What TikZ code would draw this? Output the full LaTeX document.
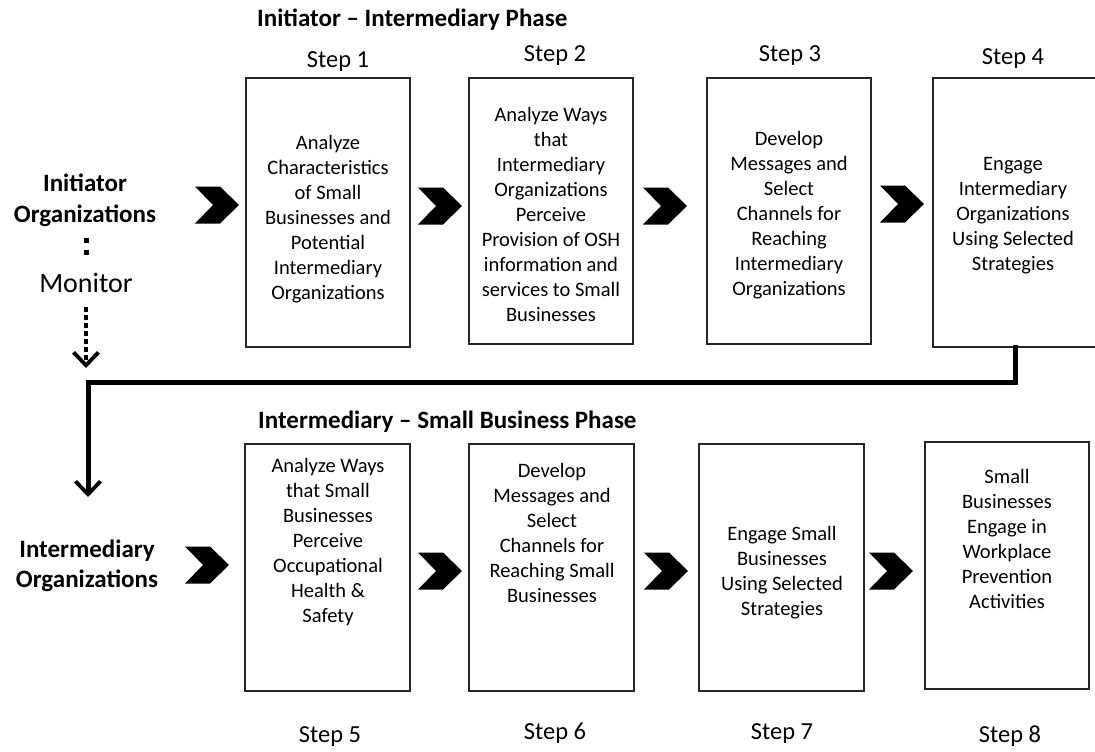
\documentclass[tikz,border=0pt]{standalone}
\usepackage{fontspec}
\setmainfont{Carlito}
\usetikzlibrary{arrows.meta}
\begin{document}
\begin{tikzpicture}[x=1pt,y=-1pt,
  stepbox/.style={draw=black!85, line width=1.6pt, minimum width=164pt, inner sep=0pt},
  boxtext/.style={align=center, inner sep=0pt, font=\fontsize{20.5}{25}\selectfont},
  steplabel/.style={anchor=base, inner sep=0pt, font=\fontsize{24.5}{29}\selectfont},
  phasetitle/.style={anchor=base west, inner sep=0pt, font=\fontsize{25}{30}\selectfont\bfseries},
  sidelabel/.style={align=center, inner sep=0pt, font=\fontsize{25}{31}\selectfont\bfseries},
  openhead/.style={-{Straight Barb[length=13pt,width=25pt,line width=3.8pt]}},
  flowline/.style={line width=5pt, line join=miter, line cap=rect, openhead},
  monitorline/.style={line width=4.5pt, dash pattern=on 4.5pt off 3.5pt, openhead},
  chevron/.pic={\fill[black] (-22,-18.5) -- (3,-18.5) -- (22,0) -- (3,18.5)
    -- (-22,18.5) -- (-4,0) -- cycle;}
]
\useasboundingbox (0,0) rectangle (1095,752);

% phase titles
\node[phasetitle] (title1) at (257,27) {Initiator -- Intermediary Phase};
\node[phasetitle] (title2) at (258,428) {Intermediary -- Small Business Phase};

% side labels
\node[sidelabel] (initiator) at (85,200) {Initiator\\Organizations};
\node[anchor=base, inner sep=0pt, font=\fontsize{28}{32}\selectfont] (monitor) at (86,292) {Monitor};
\node[sidelabel, font=\fontsize{25}{30}\selectfont\bfseries] (intermediary) at (87,566) {Intermediary\\Organizations};

% first phase: steps 1-4
\node[stepbox, minimum height=269pt] (b1) at (328,212.5) {};
\node[stepbox, minimum height=266pt] (b2) at (551,211) {};
\node[stepbox, minimum height=266pt] (b3) at (789,211) {};
\node[stepbox, minimum height=269pt] (b4) at (1015,212.5) {};

\node[boxtext] (t1) at (328,219) {Analyze\\Characteristics\\of Small\\Businesses and\\Potential\\Intermediary\\Organizations};
\node[boxtext] (t2) at (551,214) {Analyze Ways\\that\\Intermediary\\Organizations\\Perceive\\Provision of OSH\\information and\\services to Small\\Businesses};
\node[boxtext] (t3) at (789,215.5) {Develop\\Messages and\\Select\\Channels for\\Reaching\\Intermediary\\Organizations};
\node[boxtext] (t4) at (1013,215.5) {Engage\\Intermediary\\Organizations\\Using Selected\\Strategies};

\node[steplabel] (s1) at (338,67) {Step 1};
\node[steplabel] (s2) at (555,62) {Step 2};
\node[steplabel] (s3) at (790,62) {Step 3};
\node[steplabel] (s4) at (1013,65) {Step 4};

% second phase: steps 5-8
\node[stepbox, minimum width=165pt, minimum height=247pt] (b5) at (327.5,567.5) {};
\node[stepbox, minimum width=165pt, minimum height=247pt] (b6) at (551.5,567.5) {};
\node[stepbox, minimum width=165pt, minimum height=247pt] (b7) at (781.5,567.5) {};
\node[stepbox, minimum width=164pt, minimum height=247pt] (b8) at (1007,565.5) {};

\node[boxtext] (t5) at (328,542) {Analyze Ways\\that Small\\Businesses\\Perceive\\Occupational\\Health \&\\Safety};
\node[boxtext] (t6) at (552,532.5) {Develop\\Messages and\\Select\\Channels for\\Reaching Small\\Businesses};
\node[boxtext] (t7) at (782,573) {Engage Small\\Businesses\\Using Selected\\Strategies};
\node[boxtext] (t8) at (1007,539) {Small\\Businesses\\Engage in\\Workplace\\Prevention\\Activities};

\node[steplabel] (s5) at (330,742) {Step 5};
\node[steplabel] (s6) at (555,739) {Step 6};
\node[steplabel] (s7) at (782,739) {Step 7};
\node[steplabel] (s8) at (1010,742) {Step 8};

% chevrons between the stages
\pic at (217,205) {chevron};
\pic at (440,206) {chevron};
\pic at (665,206) {chevron};
\pic at (902,204) {chevron};
\pic at (207,565) {chevron};
\pic at (440,571) {chevron};
\pic at (666,571) {chevron};
\pic at (891,571) {chevron};

% two square dots joining the initiator label and the monitor label
\coordinate (colontop) at (86,237.5);
\coordinate (colonbot) at (86,254.5);
\draw[line width=5pt, dash pattern=on 5pt off 7pt] (colontop) -- (colonbot);

% hand-over from step 4 to the intermediary organizations
\coordinate (turnR) at (b4.south |- 0,382);
\coordinate (turnL) at (88,382);
\coordinate (handoff) at (88,497);
\draw[flowline] (b4.south) -- (turnR) -- (turnL) -- (handoff);

% monitoring link
\coordinate (monitorstart) at (86,307);
\coordinate (monitorend) at (86,368);
\draw[monitorline] (monitorstart) -- (monitorend);
\end{tikzpicture}
\end{document}
